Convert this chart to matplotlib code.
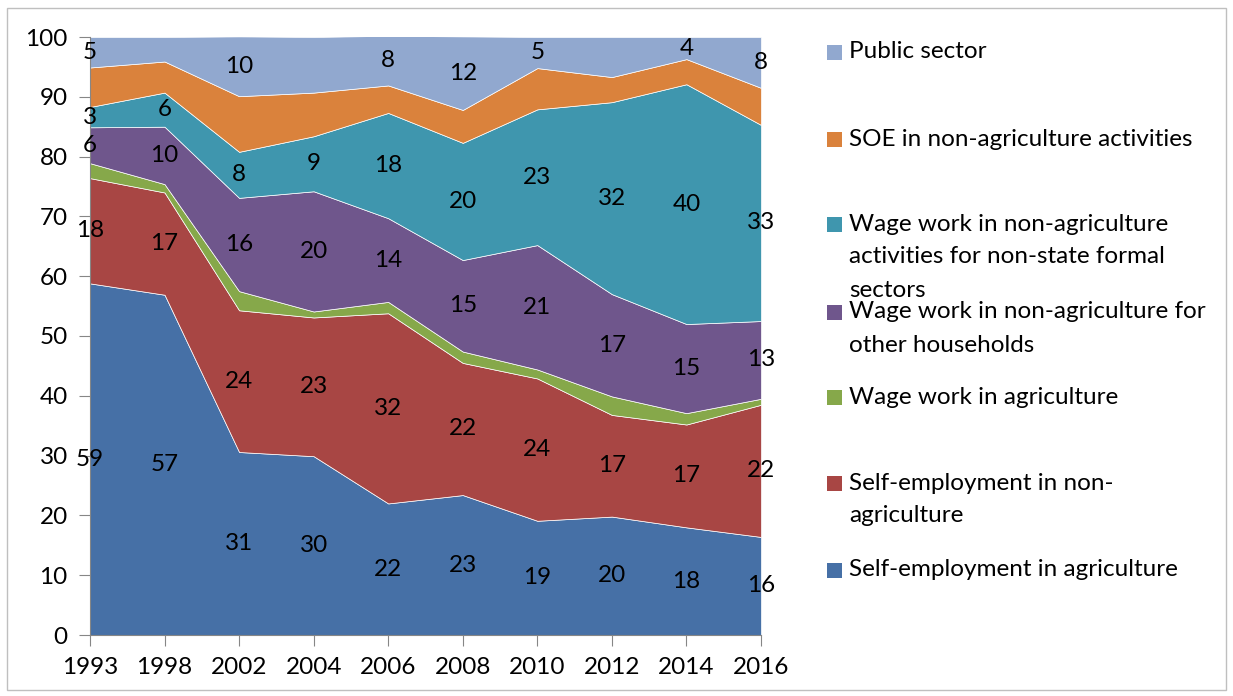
import matplotlib
matplotlib.use("Agg")
import numpy as np
from matplotlib import pyplot as plt
from matplotlib.patches import Rectangle

plt.rcParams['font.family'] = ['Lato', 'DejaVu Sans']

years = ["1993", "1998", "2002", "2004", "2006", "2008", "2010", "2012", "2014", "2016"]

# shares (%), bottom layer first
self_agri = [58.8, 56.9, 30.6, 29.9, 22.0, 23.4, 19.1, 19.8, 18.0, 16.4]
self_nonagri = [17.6, 17.1, 23.7, 23.2, 31.8, 22.1, 23.8, 17.0, 17.2, 22.1]
wage_agri = [2.5, 1.4, 3.2, 1.0, 1.9, 1.9, 1.5, 3.1, 1.9, 1.0]
wage_households = [6.0, 9.6, 15.6, 20.1, 14.0, 15.3, 20.8, 17.1, 14.9, 13.0]
wage_formal = [3.4, 5.7, 7.7, 9.2, 17.6, 19.6, 22.7, 32.1, 40.1, 32.8]
soe = [6.6, 5.2, 9.3, 7.3, 4.6, 5.5, 6.9, 4.2, 4.2, 6.2]
public = [5.1, 4.1, 10.0, 9.3, 8.3, 12.3, 5.2, 6.7, 3.7, 8.5]

series = [self_agri, self_nonagri, wage_agri, wage_households, wage_formal, soe, public]
names = ["Self-employment in agriculture",
         "Self-employment in non-\nagriculture",
         "Wage work in agriculture",
         "Wage work in non-agriculture for\nother households",
         "Wage work in non-agriculture\nactivities for non-state formal\nsectors",
         "SOE in non-agriculture activities",
         "Public sector"]
colors = ["#4670A6", "#A84644", "#86A84A", "#6F568C", "#3F96AE", "#DA823C", "#91A8CF"]

# which points get a data label (True = shown)
show_label = [
    [True] * 10,
    [True] * 10,
    [False] * 10,
    [True] * 10,
    [True] * 10,
    [False] * 10,
    [True, False, True, False, True, True, True, False, True, True],
]

FS = 17.5
W, H = 1233, 696
fig = plt.figure(figsize=(W / 100, H / 100), dpi=100)
ax = fig.add_axes([90 / W, 1 - 635 / H, (761 - 90) / W, (635 - 37) / H])

x = np.arange(len(years))
ax.stackplot(x, *series, colors=colors, edgecolor="white", linewidth=0.5)

bottom = np.zeros(len(years))
for vals, shows in zip(series, show_label):
    vals = np.array(vals)
    for i in range(len(years)):
        if shows[i]:
            ax.text(x[i], bottom[i] + vals[i] / 2, f"{vals[i]:.0f}",
                    ha="center", va="center", fontsize=FS, color="black")
    bottom += vals

ax.set_xlim(0, len(years) - 1)
ax.set_ylim(0, 100)
ax.set_xticks(x)
ax.set_xticklabels(years, fontsize=FS)
ax.set_yticks(range(0, 101, 10))
ax.tick_params(axis="y", labelsize=FS, length=8, color="#868686", pad=8)
ax.tick_params(axis="x", length=8, color="#868686", pad=8)
for side in ["top", "right"]:
    ax.spines[side].set_visible(False)
for side in ["left", "bottom"]:
    ax.spines[side].set_color("#868686")

# legend, drawn by hand to follow the original spacing
legend_y = {6: 52, 5: 139, 4: 224, 3: 312, 2: 397, 1: 483, 0: 570}
for idx, y0 in legend_y.items():
    fig.add_artist(Rectangle((827 / W, 1 - (y0 + 8) / H), 15 / W, 15 / H,
                             transform=fig.transFigure, facecolor=colors[idx],
                             edgecolor="none"))
    for k, line in enumerate(names[idx].split("\n")):
        fig.text(849 / W, 1 - (y0 + 33 * k) / H, line, ha="left", va="center",
                 fontsize=FS)

# thin frame round the chart
fig.add_artist(Rectangle((7 / W, 1 - 690 / H), (1226 - 7) / W, (690 - 8) / H,
                         transform=fig.transFigure, fill=False,
                         edgecolor="#BFBFBF", linewidth=1))

fig.savefig("out.png", dpi=100)
